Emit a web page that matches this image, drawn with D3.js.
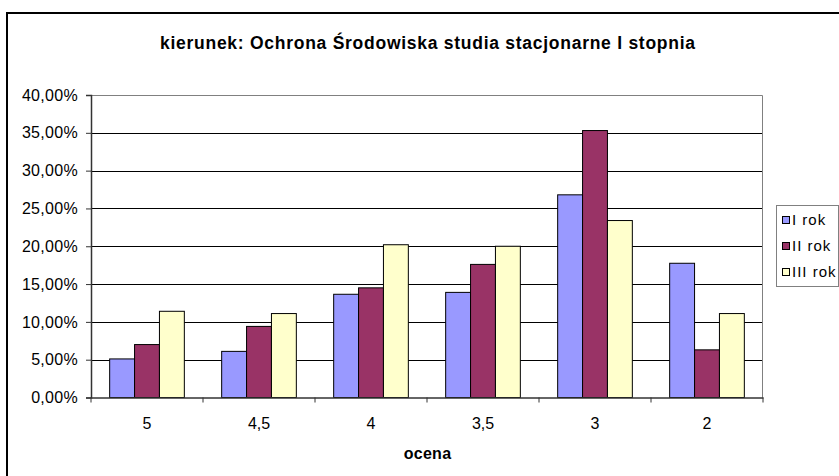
<!DOCTYPE html>
<html><head><meta charset="utf-8">
<script src="https://cdn.jsdelivr.net/npm/d3@7"></script>
<style>
html,body{margin:0;padding:0;background:#fff;}
svg{display:block;font-family:"Liberation Sans",Arial,sans-serif;}
</style></head>
<body>
<svg id="chart" width="839" height="476"></svg>
<script>
const categories = ["5", "4,5", "4", "3,5", "3", "2"];
const seriesNames = ["I rok", "II rok", "III rok"];
const seriesI   = [0.051, 0.061, 0.1365, 0.139, 0.268, 0.1775];
const seriesII  = [0.070, 0.094, 0.145, 0.176, 0.353, 0.063];
const seriesIII = [0.114, 0.111, 0.202, 0.200, 0.234, 0.111];
const yTicks = [0, 0.05, 0.10, 0.15, 0.20, 0.25, 0.30, 0.35, 0.40];
const colors = ["#9999FF", "#993366", "#FFFFCC"];
const titleText = "kierunek: Ochrona Środowiska studia stacjonarne I stopnia";
const xTitle = "ocena";

const svg = d3.select("#chart");
const L = 91, R = 763, T = 95, B = 397.5;

// outer chart border
svg.append("rect").attr("x", 7).attr("y", 13).attr("width", 850).attr("height", 480)
  .attr("fill", "#fff").attr("stroke", "#000").attr("stroke-width", 2);

const x = d3.scaleBand().domain(categories).range([L, R]).padding(0);
const bw = x.bandwidth();
const xs = d3.scaleBand().domain(seriesNames).range([bw / 6, bw - bw / 6]).padding(0);
const y = d3.scaleLinear().domain([0, 0.40]).range([B, T]);

// gridlines
svg.append("g").selectAll("line").data(yTicks.slice(1, -1)).join("line")
  .attr("x1", L).attr("x2", R).attr("y1", d => Math.round(y(d)) + 0.5).attr("y2", d => Math.round(y(d)) + 0.5)
  .attr("stroke", "#000").attr("stroke-width", 1);
// plot area border (top & right)
svg.append("path").attr("d", `M${L},${T + 0.5}H${R - 0.5}V${B}`)
  .attr("fill", "none").attr("stroke", "#808080").attr("stroke-width", 1);

// bars
const data = seriesNames.map((s, i) => ({ name: s, values: [seriesI, seriesII, seriesIII][i], color: colors[i] }));
const gs = svg.append("g").selectAll("g").data(data).join("g").attr("fill", d => d.color);
gs.selectAll("rect").data(d => d.values.map((v, j) => ({ v, c: categories[j], s: d.name }))).join("rect")
  .attr("x", d => x(d.c) + xs(d.s))
  .attr("width", xs.bandwidth())
  .attr("y", d => y(d.v))
  .attr("height", d => B - y(d.v))
  .attr("stroke", "#000").attr("stroke-width", 1);

// axes
const fmt = v => d3.format(".2f")(v * 100).replace(".", ",") + "%";
const yAxis = d3.axisLeft(y).tickValues(yTicks).tickFormat(fmt).tickSize(5).tickPadding(8);
const gy = svg.append("g").attr("transform", `translate(${L},0)`).call(yAxis);
gy.select(".domain").attr("stroke", "#333").attr("stroke-width", 1.5);
gy.selectAll(".tick line").attr("stroke", "#333");
gy.selectAll("text").attr("font-size", 16).attr("fill", "#000").attr("font-family", "Liberation Sans, Arial, sans-serif")
  .attr("letter-spacing", 0.3);

const xAxis = d3.axisBottom(x).tickSize(0).tickPadding(20);
const gx = svg.append("g").attr("transform", `translate(0,${B})`).call(xAxis);
gx.select(".domain").attr("stroke", "#333").attr("stroke-width", 1.5);
gx.selectAll("text").attr("font-size", 16).attr("fill", "#000").attr("font-family", "Liberation Sans, Arial, sans-serif");
// category separator ticks
svg.append("g").selectAll("line").data(categories.concat(["end"])).join("line")
  .attr("x1", (d, i) => i < categories.length ? x(d) : R).attr("x2", (d, i) => i < categories.length ? x(d) : R)
  .attr("y1", B).attr("y2", B + 5).attr("stroke", "#333").attr("stroke-width", 1);

// titles
svg.append("text").attr("x", 160).attr("y", 48.5).attr("text-anchor", "start")
  .attr("font-size", 17.5).attr("font-weight", "bold")
  .attr("textLength", 535).attr("lengthAdjust", "spacing").text(titleText);
svg.append("text").attr("x", 427.5).attr("y", 459).attr("text-anchor", "middle")
  .attr("font-size", 16).attr("font-weight", "bold").attr("letter-spacing", 0.3).text(xTitle);

// legend
const lg = svg.append("g");
lg.append("rect").attr("x", 776.5).attr("y", 205.5).attr("width", 62).attr("height", 81)
  .attr("fill", "#fff").attr("stroke", "#808080").attr("stroke-width", 1);
const li = lg.selectAll("g").data(data).join("g")
  .attr("transform", (d, i) => `translate(782,${220 + i * 26})`);
li.append("rect").attr("x", 0.5).attr("y", -3.5).attr("width", 7).attr("height", 7)
  .attr("fill", d => d.color).attr("stroke", "#000").attr("stroke-width", 1);
li.append("text").attr("x", 10).attr("y", 0).attr("dy", "0.36em").attr("font-size", 15)
  .attr("letter-spacing", 1).text(d => d.name);
</script>
</body></html>
